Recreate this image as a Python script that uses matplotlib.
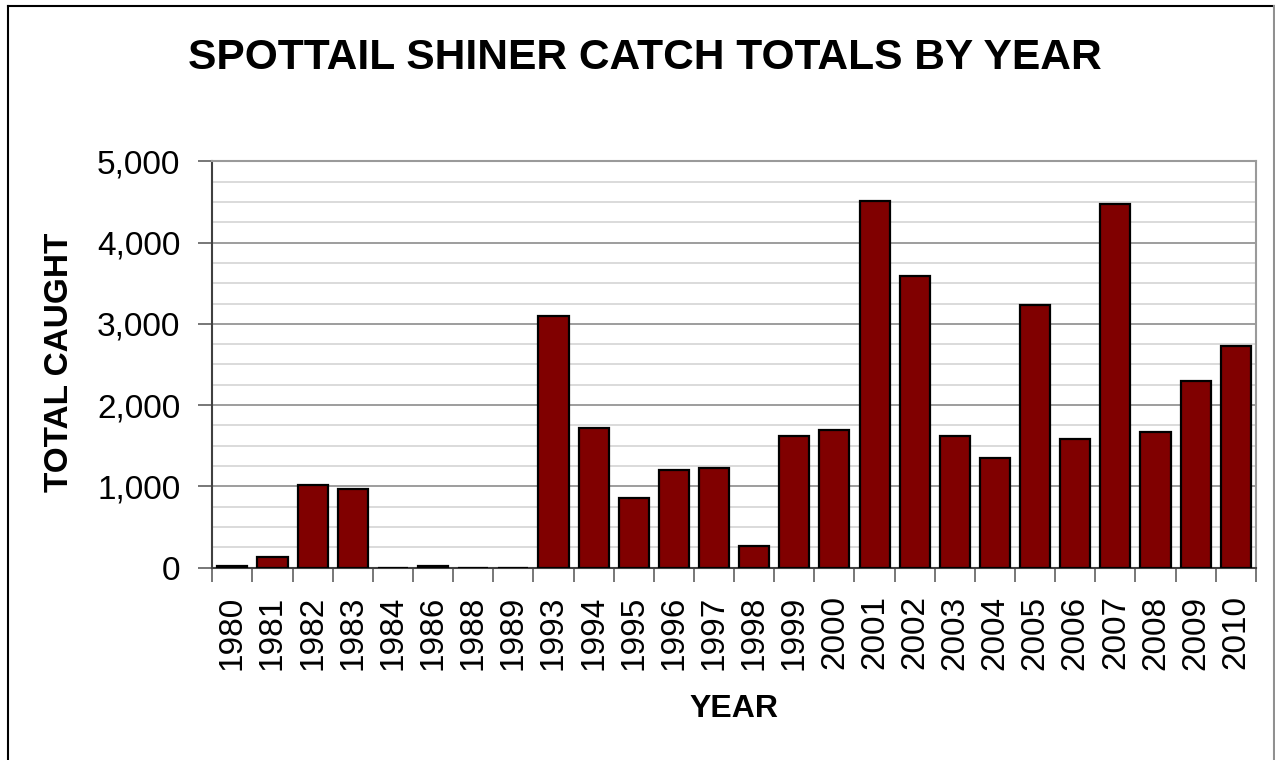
import matplotlib
matplotlib.use('Agg')
import matplotlib.pyplot as plt
from matplotlib.lines import Line2D
from matplotlib.ticker import FuncFormatter, MultipleLocator, FixedLocator

plt.rcParams['font.family'] = ['Liberation Sans', 'DejaVu Sans']

years = ['1980', '1981', '1982', '1983', '1984', '1986', '1988', '1989',
         '1993', '1994', '1995', '1996', '1997', '1998', '1999', '2000',
         '2001', '2002', '2003', '2004', '2005', '2006', '2007', '2008',
         '2009', '2010']
catch = [25, 131, 1017, 964, 0, 25, 0, 0,
         3100, 1722, 857, 1197, 1222, 262, 1620, 1693,
         4506, 3592, 1615, 1353, 3231, 1587, 4477, 1665,
         2292, 2731]

fig = plt.figure(figsize=(12.75, 7.6), dpi=100)
ax = fig.add_axes([0.1665, 0.253, 0.8185, 0.5348])

x = list(range(len(years)))
ax.bar(x, catch, width=0.75, color='#800000', edgecolor='black', linewidth=1.6, zorder=3)

ax.set_xlim(-0.5, len(years) - 0.5)
ax.set_ylim(0, 5000)

# grid: light every 250, darker every 1000
ax.yaxis.set_major_locator(MultipleLocator(1000))
ax.yaxis.set_minor_locator(MultipleLocator(250))
ax.grid(axis='y', which='minor', color='#d4d4d4', linewidth=1.2, zorder=0)
ax.grid(axis='y', which='major', color='#8c8c8c', linewidth=1.2, zorder=0)
ax.set_axisbelow(True)
ax.yaxis.set_major_formatter(FuncFormatter(lambda v, p: f'{int(v):,}'))
ax.tick_params(axis='y', which='major', length=10, width=1.2, color='#606060',
               labelsize=24, pad=13)
ax.tick_params(axis='y', which='minor', length=0)

# x: labels at centers, ticks at boundaries
ax.set_xticks(x)
ax.set_xticklabels(years, rotation=90)
ax.xaxis.set_minor_locator(FixedLocator([i - 0.5 for i in range(len(years) + 1)]))
ax.tick_params(axis='x', which='major', length=0, labelsize=24, pad=20)
ax.tick_params(axis='x', which='minor', length=10, width=1.2, color='#606060')

for s in ['left', 'bottom']:
    ax.spines[s].set_color('#404040')
    ax.spines[s].set_linewidth(1.5)
for s in ['top', 'right']:
    ax.spines[s].set_color('#9a9a9a')
    ax.spines[s].set_linewidth(1.5)

fig.text(0.506, 0.924, 'SPOTTAIL SHINER CATCH TOTALS BY YEAR', fontsize=30.6,
         fontweight='bold', ha='center', va='center')
fig.text(59 / 1275, 1 - 362 / 760, 'TOTAL CAUGHT', fontsize=24, fontweight='bold',
         rotation=90, ha='center', va='center')
fig.text(734 / 1275, 1 - 709 / 760, 'YEAR', fontsize=23, fontweight='bold',
         ha='center', va='center')

# chart-area border
fig.add_artist(Line2D([8 / 1275, 8 / 1275], [0, 1 - 6 / 760], transform=fig.transFigure,
                      color='black', linewidth=1.5))
fig.add_artist(Line2D([8 / 1275, 1273.5 / 1275], [1 - 6 / 760, 1 - 6 / 760],
                      transform=fig.transFigure, color='black', linewidth=1.5))
fig.add_artist(Line2D([1273.5 / 1275, 1273.5 / 1275], [0, 1 - 6 / 760],
                      transform=fig.transFigure, color='#909090', linewidth=1.5))

fig.savefig('out.png', dpi=100)
